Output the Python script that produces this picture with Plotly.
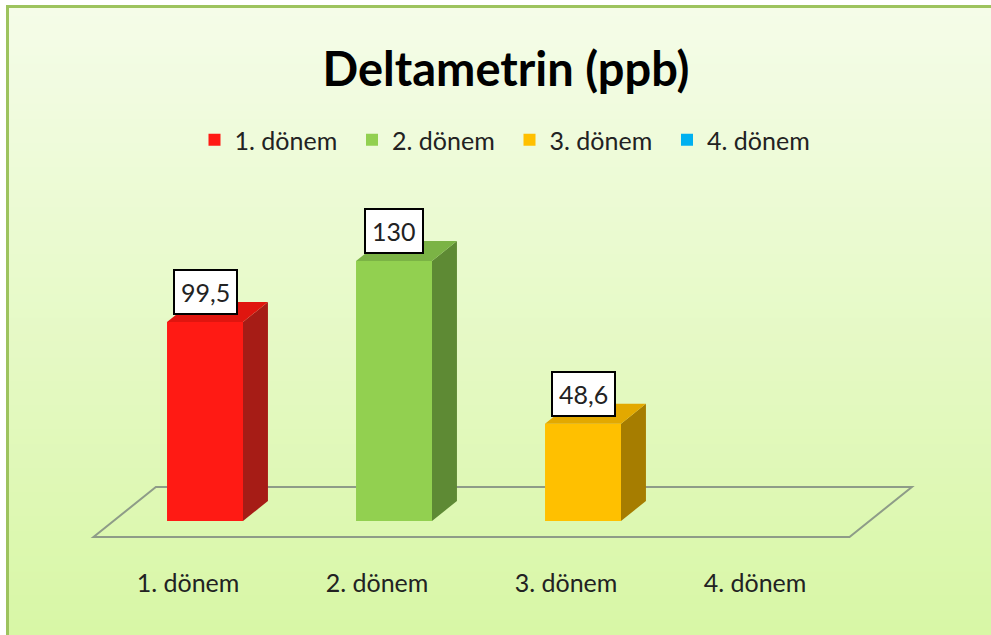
import plotly.graph_objects as go

# ---- data ----
categories = ["1. dönem", "2. dönem", "3. dönem", "4. dönem"]
values = [99.5, 130, 48.6, None]
title_text = "Deltametrin (ppb)"

# ---- styles ----
FRONT = ["#FF1A14", "#92D050", "#FFC000", "#00B0F0"]
TOP = ["#E0150F", "#7BB345", "#E3A900", "#0096CC"]
SIDE = ["#A61C16", "#5E8A34", "#A67D00", "#0070A0"]
FONT = "Lato"

W, OFF = 0.402, -0.111          # bar width / offset (category units)
DX, DY = 0.132, 10              # bar depth (x units, y units)
FLOOR_Y, FLOOR_DX, FLOOR_DY = -8, 0.33, 25

fig = go.Figure()

# front faces (bars)
for i, (cat, v) in enumerate(zip(categories, values)):
    fig.add_trace(go.Bar(
        x=[i], y=[v], name=cat, width=W, offset=OFF,
        marker=dict(color=FRONT[i], line=dict(width=0)),
        hoverinfo="skip",
    ))

# side and top faces (3D effect, derived from values)
for i, v in enumerate(values):
    if v is None:
        continue
    xl = i + OFF
    xr = xl + W
    fig.add_trace(go.Scatter(
        x=[xr, xr + DX, xr + DX, xr, xr], y=[0, DY, v + DY, v, 0],
        mode="lines", fill="toself", fillcolor=SIDE[i], line=dict(width=0),
        showlegend=False, hoverinfo="skip",
    ))
    fig.add_trace(go.Scatter(
        x=[xl, xl + DX, xr + DX, xr, xl], y=[v, v + DY, v + DY, v, v],
        mode="lines", fill="toself", fillcolor=TOP[i], line=dict(width=0),
        showlegend=False, hoverinfo="skip",
    ))
    fig.add_annotation(
        x=xl + W / 2, y=v, text=f"{v:g}".replace(".", ","),
        showarrow=False, yanchor="bottom", yshift=7,
        font=dict(family=FONT, size=25, color="#222222"),
        bgcolor="white", bordercolor="black", borderwidth=2, borderpad=6,
    )

# background gradient
shapes = []
N = 80
c0 = (0xF5, 0xFC, 0xE9)
c1 = (0xD8, 0xF7, 0xA6)
for k in range(N):
    t = k / (N - 1)
    col = tuple(round(a + (b - a) * t) for a, b in zip(c0, c1))
    y1 = 1 - k / N
    y0 = 1 - (k + 1) / N
    shapes.append(dict(type="rect", xref="paper", yref="paper",
                       x0=0, x1=1, y0=max(y0 - 0.002, 0), y1=y1,
                       fillcolor="rgb(%d,%d,%d)" % col, line=dict(width=0),
                       layer="below"))
# white strips outside frame + green frame (top and left edges)
shapes.append(dict(type="rect", xref="paper", yref="paper",
                   x0=0, x1=6 / 991, y0=0, y1=1,
                   fillcolor="white", line=dict(width=0), layer="below"))
shapes.append(dict(type="rect", xref="paper", yref="paper",
                   x0=0, x1=1, y0=1 - 5 / 635, y1=1,
                   fillcolor="white", line=dict(width=0), layer="below"))
shapes.append(dict(type="line", xref="paper", yref="paper",
                   x0=7.5 / 991, x1=1, y0=1 - 6.5 / 635, y1=1 - 6.5 / 635,
                   line=dict(width=3, color="#9DC35E"), layer="below"))
shapes.append(dict(type="line", xref="paper", yref="paper",
                   x0=7.5 / 991, x1=7.5 / 991, y0=0, y1=1 - 5 / 635,
                   line=dict(width=3, color="#9DC35E"), layer="below"))
# floor (3D base plane)
n = len(categories)
fx0, fx1 = -0.5, n - 0.5
shapes.append(dict(
    type="path", xref="x", yref="y", layer="below",
    path=(f"M {fx0},{FLOOR_Y} L {fx1},{FLOOR_Y} "
          f"L {fx1 + FLOOR_DX},{FLOOR_Y + FLOOR_DY} L {fx0 + FLOOR_DX},{FLOOR_Y + FLOOR_DY} Z"),
    line=dict(color="#8E9C88", width=2), fillcolor="rgba(0,0,0,0)",
))

fig.update_layout(
    width=991, height=635,
    margin=dict(l=0, r=0, t=0, b=0),
    paper_bgcolor="#DDF8B0", plot_bgcolor="rgba(0,0,0,0)",
    shapes=shapes,
    title=dict(text=f"<b>{title_text}</b>", x=506 / 991, xanchor="center",
               y=1 - 70 / 635, yanchor="middle",
               font=dict(family=FONT, size=47, color="black")),
    legend=dict(orientation="h", x=509.5 / 991, xanchor="center",
                y=1 - 140 / 635, yanchor="middle",
                font=dict(family=FONT, size=25, color="#222222"),
                bgcolor="rgba(0,0,0,0)", entrywidth=112.5),
    showlegend=True,
    xaxis=dict(range=[-188 / 189, (991 - 188) / 189], tickvals=list(range(n)),
               ticktext=categories, showgrid=False, zeroline=False,
               showline=False, ticks="", fixedrange=True,
               anchor="free", position=1 - 566 / 635,
               tickfont=dict(family=FONT, size=25, color="#222222")),
    yaxis=dict(range=[-57, 260.5], showgrid=False, zeroline=False,
               showline=False, showticklabels=False, ticks="", fixedrange=True),
)

fig.write_html(
    "out.html",
    config={"displayModeBar": False},
    post_script="document.body.style.margin='0';document.body.style.overflow='hidden';",
)
